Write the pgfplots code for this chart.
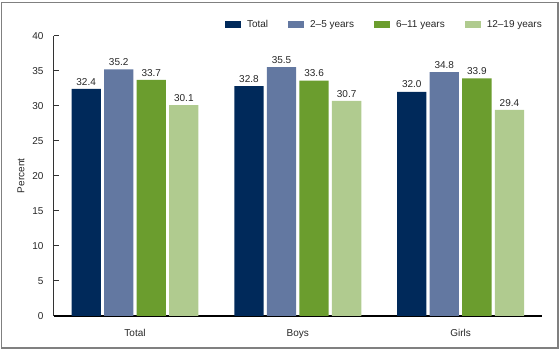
\documentclass[border=0pt]{standalone}
\usepackage{fontspec}
\setmainfont{Liberation Sans}
\usepackage{pgfplots}
\pgfplotsset{compat=1.18}
\definecolor{cTotal}{RGB}{0,41,90}
\definecolor{cTwo}{RGB}{99,120,161}
\definecolor{cSix}{RGB}{107,157,46}
\definecolor{cTwelve}{RGB}{176,203,143}
\definecolor{frame}{RGB}{128,128,128}
\newcommand{\f}{\fontsize{10bp}{12bp}\selectfont}
\begin{document}
\f
\begin{tikzpicture}
\useasboundingbox (0,0) rectangle (560bp,351bp);
\draw[frame, line width=1.3bp] (1.5bp,3bp) rectangle (558bp,348.5bp);
\begin{axis}[
  at={(53.6bp,35bp)}, anchor=south west,
  scale only axis, width=488.4bp, height=280.3bp,
  ymin=0, ymax=40, xmin=-0.5, xmax=2.5,
  ytick={0,5,...,40},
  xtick={0,1,2}, xticklabels={Total,Boys,Girls},
  axis x line*=bottom, axis y line*=left,
  x axis line style={black, line width=1.8bp, -},
  y axis line style={black!80, line width=1.2bp, -},
  ytick style={black!80, line width=1bp},
  xtick style={draw=none},
  tick align=inside,
  major tick length=5.5bp,
  font=\f,
  /pgf/number format/assume math mode=true,
  yticklabel style={font=\f, inner sep=0pt, xshift=-10bp, anchor=east, text=black!85},
  xticklabel style={font=\f, inner sep=0pt, yshift=-8bp, anchor=north, text=black!85},
  ylabel={Percent},
  ylabel style={at={(axis description cs:-0.0667,0.5)}, anchor=center, font=\f, text=black!85},
  ybar, bar width=0.18,
  nodes near coords={\pgfmathprintnumber[fixed,fixed zerofill,precision=1]{\pgfplotspointmeta}},
  every node near coord/.append style={anchor=south, inner sep=0pt, yshift=3.5bp, font=\f, text=black!85},
  legend columns=4,
  legend style={draw=none, fill=none, at={(axis description cs:1,1)}, anchor=east, xshift=2bp, yshift=11bp, inner sep=0pt, font=\f, text=black!85,
    /tikz/every even column/.append style={column sep=18bp}},
  legend image code/.code={\fill[#1,draw=none] (0bp,-3.5bp) rectangle (16bp,3.5bp); \path (20bp,0bp);},
]
\addplot[fill=cTotal, draw=none, bar shift=-0.3] coordinates {(0,32.4) (1,32.8) (2,32.0)};
\addplot[fill=cTwo, draw=none, bar shift=-0.1] coordinates {(0,35.2) (1,35.5) (2,34.8)};
\addplot[fill=cSix, draw=none, bar shift=0.1] coordinates {(0,33.7) (1,33.6) (2,33.9)};
\addplot[fill=cTwelve, draw=none, bar shift=0.3] coordinates {(0,30.1) (1,30.7) (2,29.4)};
\legend{Total, 2–5 years, 6–11 years, 12–19 years}
\end{axis}
\end{tikzpicture}
\end{document}
